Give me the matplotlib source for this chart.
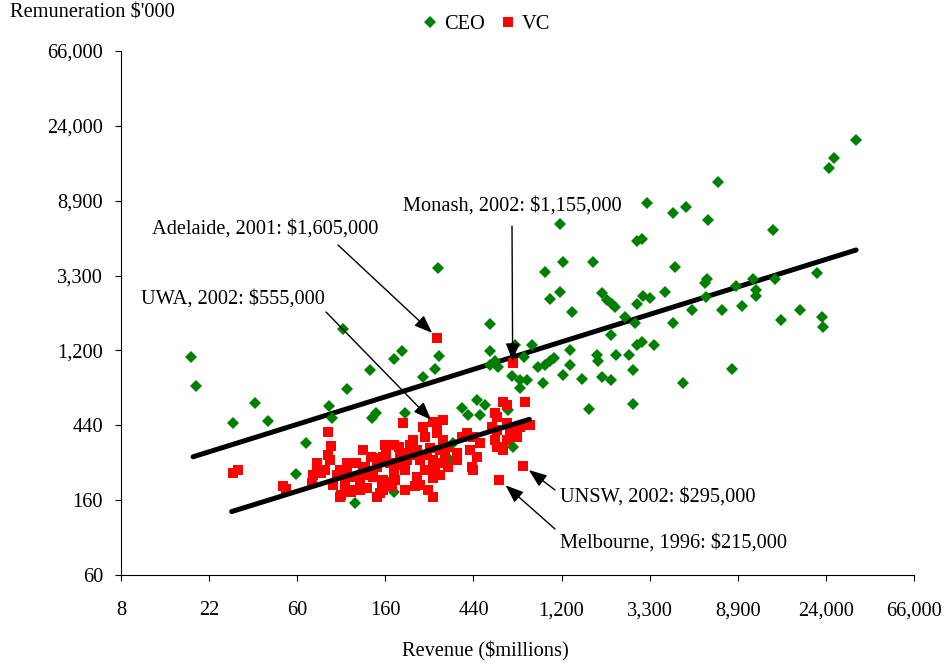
import numpy as np
import matplotlib
matplotlib.use("Agg")
import matplotlib.pyplot as plt
from matplotlib.lines import Line2D

plt.rcParams['font.family'] = ['Liberation Serif', 'DejaVu Serif']

# --- CEO : revenue ($m) vs remuneration ($'000) ---
ceo_revenue = [18, 19, 37, 29, 43, 101, 86, 89, 106, 137, 180, 197, 140, 147, 66, 59, 116, 180,
               296, 301, 287, 249, 535, 535, 567, 535, 588, 711, 860, 787, 685, 752, 812, 752,
               980, 926, 1000, 1058, 1100, 1060, 204, 388, 460, 506, 418, 478, 659, 697, 353, 340,
               7150, 3170, 4260, 4950, 6380, 1185, 2830, 3000, 1220, 1720, 1000, 4370, 1185, 1900,
               2010, 2130, 2210, 1350, 3050, 3290, 2830, 3900, 6140, 6260, 6210, 8690, 5320, 7430,
               2480, 2775, 4290, 2110, 1330, 3000, 2830, 3455, 1800, 1830, 2240, 2600, 1330, 1230,
               1515, 1900, 2105, 2720, 8320, 4770, 1650, 2720,
               34100, 26600, 25100, 13300, 10600, 10900, 10900, 13600, 9320, 22000, 18100, 14600,
               23100, 23500]
ceo_pay = [1110, 750, 600, 455, 470, 1600, 570, 490, 720, 925, 1070, 1200, 487, 520, 350, 230, 156, 182,
           3640, 1120, 937, 840, 1715, 1200, 1040, 990, 970, 1300, 1295, 1110, 857, 812, 812, 727,
           783, 970, 990, 1040, 1085, 2380, 520, 556, 622, 582, 509, 509, 544, 330, 349, 279,
           11500, 8670, 7590, 8150, 6880, 6530, 5200, 5320, 3910, 3910, 3450, 3660, 2640, 2590,
           2365, 2240, 2160, 2015, 2490, 2420, 2240, 2640, 2980, 3120, 2450, 2850, 2070, 2070,
           1890, 1745, 1745, 1480, 1220, 1350, 1295, 1295, 1130, 1040, 1130, 1130, 990, 870,
           826, 842, 812, 928, 940, 783, 549, 590,
           20000, 15700, 13800, 6020, 3140, 2700, 2500, 3130, 2190, 3380, 2070, 1810,
           1890, 1655]

# --- Vice-chancellors ---
vc_revenue = [29, 30.5, 51, 53,
              85, 88, 85, 75, 72, 71, 79, 94, 90, 99, 113, 106, 116, 127, 139, 132, 148, 158, 158,
              154, 165, 130, 117, 106, 98, 75, 82, 98, 111, 148, 158, 172, 142, 127, 106,
              200, 251, 281, 315, 224, 256, 292, 315, 179, 193, 233, 271, 304, 327, 148, 172, 208,
              242, 281, 315, 179, 233, 281, 333, 157, 175, 229, 266, 281, 154, 367, 367, 388, 411,
              443, 478, 427, 460, 435, 443, 204, 256, 304, 122, 190, 215, 262, 190,
              163, 216, 256, 287, 242, 204, 182, 321, 137, 122, 103, 87, 182, 216,
              623, 797, 647, 578, 647, 578, 567, 578, 623, 647, 697, 752, 843, 725, 672, 546, 567]
vc_pay = [233, 244, 196, 190,
          407, 336, 298, 267, 228, 205, 233, 228, 200, 175, 187, 223, 223, 319, 291, 191, 171, 187, 214,
          279, 305, 255, 267, 267, 244, 261, 244, 171, 183, 285, 291, 209, 223, 244, 249,
          456, 435, 465, 476, 364, 381, 398, 364, 341, 305, 319, 326, 319, 333, 255, 267, 279,
          279, 279, 267, 233, 223, 218, 255, 205, 196, 196, 187, 171, 179, 305, 279, 381, 398,
          381, 349, 319, 291, 255, 244, 244, 244, 228, 214, 262, 300, 300, 330,
          341, 341, 298, 244, 200, 187, 214, 298, 228, 187, 200, 279, 261, 298,
          608, 608, 582, 497, 456, 416, 364, 333, 319, 364, 416, 435, 445, 381, 398, 435, 520]

# highlighted VCs
hl_names = ["Adelaide, 2001: $1,605,000", "UWA, 2002: $555,000", "Monash, 2002: $1,155,000",
            "UNSW, 2002: $295,000", "Melbourne, 1996: $215,000"]
hl_revenue = [294, 293, 692, 781, 595]
hl_pay = [1430, 440, 1015, 258, 214]

# trend lines (end points)
ceo_fit_revenue = [18.4, 34100]
ceo_fit_pay = [291, 4610]
vc_fit_revenue = [28.5, 836]
vc_fit_pay = [140, 480]

x_ticks = 60 * np.exp(np.arange(-2, 8))
x_labels = ['8', '22', '60', '160', '440', '1,200', '3,300', '8,900', '24,000', '66,000']
y_ticks = 60 * np.exp(np.arange(0, 8))
y_labels = ['60', '160', '440', '1,200', '3,300', '8,900', '24,000', '66,000']

W, H = 950, 664
FS = 14.7
fig = plt.figure(figsize=(W / 100, H / 100), dpi=100)
ax = fig.add_axes([121 / W, (H - 575) / H, (914 - 121) / W, (575 - 51) / H])

ax.plot(ceo_fit_revenue, ceo_fit_pay, color='black', lw=3.6, solid_capstyle='round', zorder=2)
ax.plot(ceo_revenue, ceo_pay, 'D', color='#008000', ms=6.4, mew=0, zorder=3)
ax.plot(vc_revenue + hl_revenue, vc_pay + hl_pay, 's', color='#ff0000', ms=7.4, mew=0, zorder=4)
ax.plot(vc_fit_revenue, vc_fit_pay, color='black', lw=3.6, solid_capstyle='round', zorder=5)

ax.set_xscale('log')
ax.set_yscale('log')
ax.set_xlim(x_ticks[0], x_ticks[-1])
ax.set_ylim(y_ticks[0], y_ticks[-1])
ax.set_xticks(x_ticks)
ax.set_xticklabels(x_labels)
ax.set_yticks(y_ticks)
ax.set_yticklabels(y_labels)
ax.minorticks_off()
ax.tick_params(axis='both', direction='out', length=4, width=0.8, labelsize=FS)
ax.tick_params(axis='x', pad=15)
ax.tick_params(axis='y', pad=9)
for s in ['top', 'right']:
    ax.spines[s].set_visible(False)
for s in ['left', 'bottom']:
    ax.spines[s].set_linewidth(0.8)

# annotations: text position and arrow tail in pixels from the top-left
text_pos = [(152, 229), (141, 299), (403, 206), (560, 497), (560, 543)]
tail_pos = [(338, 245), (326, 312), (512, 226), (555, 490), (555, 529)]
shrink = [5, 6, 1.5, 5, 6]
for name, rx, py, (tx, ty), (ax_, ay), sb in zip(hl_names, hl_revenue, hl_pay, text_pos, tail_pos, shrink):
    fig.text(tx / W, 1 - ty / H, name, fontsize=FS, ha='left', va='center')
    ax.annotate('', xy=(rx, py), xycoords='data', xytext=(ax_, H - ay), textcoords='figure pixels',
                arrowprops=dict(arrowstyle='-|>,head_length=1.1,head_width=0.42', mutation_scale=10,
                                color='black', lw=1.0, shrinkA=0, shrinkB=sb), zorder=6)

fig.text(10 / W, 1 - 13 / H, "Remuneration $'000", fontsize=FS, ha='left', va='center')
fig.text(485 / W, 1 - 651 / H, "Revenue ($millions)", fontsize=FS, ha='center', va='center')

handles = [Line2D([], [], marker='D', color='#008000', ls='none', ms=6.4, mew=0, label='CEO'),
           Line2D([], [], marker='s', color='#ff0000', ls='none', ms=7.2, mew=0, label='VC')]
fig.legend(handles=handles, loc='center', bbox_to_anchor=(486 / W, 1 - 24 / H), ncol=2, frameon=False,
           fontsize=FS, handlelength=0.8, handletextpad=0.3, columnspacing=0.7, borderaxespad=0)

fig.savefig('out.png', dpi=100)
